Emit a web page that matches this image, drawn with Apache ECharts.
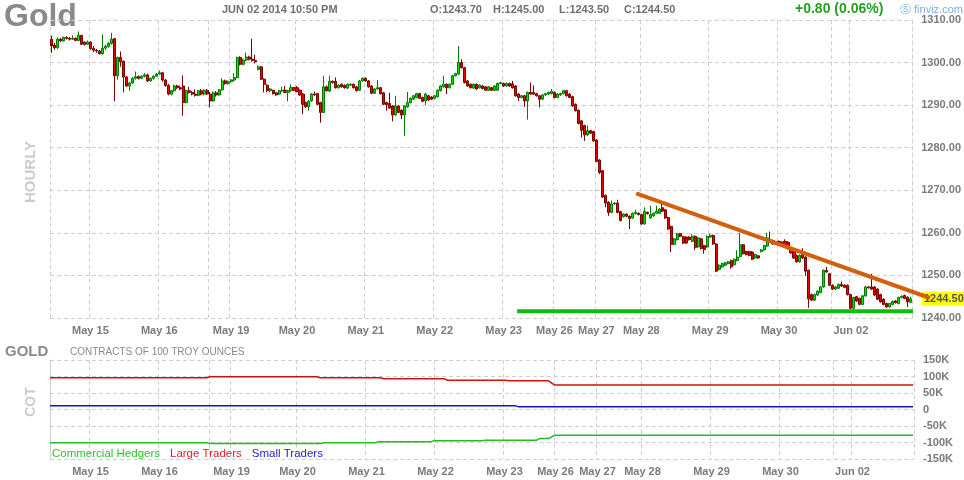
<!DOCTYPE html>
<html><head><meta charset="utf-8">
<script src="https://cdn.jsdelivr.net/npm/echarts@6/dist/echarts.min.js"></script>
<style>html,body{margin:0;padding:0;background:#fff}#c{width:964px;height:480px}</style>
</head><body><div id="c"></div>
<script>
// Hourly candles [open, close, low, high]
const hourlyA = [
[1305.5,1303.9,1302.3,1306.3],[1304.1,1303.5,1303.0,1304.6],[1303.5,1305.5,1303.2,1305.9],[1305.5,1305.1,1304.8,1305.8],
[1305.1,1305.9,1304.9,1306.1],[1305.9,1305.7,1305.4,1306.2],[1305.7,1305.5,1305.2,1306.0],[1305.5,1305.7,1305.3,1306.4],
[1305.7,1305.2,1305.0,1305.9],[1305.2,1306.4,1305.0,1307.3],[1306.4,1304.3,1304.1,1306.5],[1304.8,1304.3,1304.0,1305.0],
[1304.3,1304.8,1304.2,1305.2],[1304.8,1303.3,1303.0,1305.0],[1303.3,1302.9,1302.5,1303.9],[1302.9,1302.7,1302.3,1303.2],
[1302.7,1302.1,1301.9,1303.0],[1302.1,1303.4,1301.9,1306.6],[1303.4,1303.8,1303.0,1304.2],[1303.8,1304.5,1303.5,1304.8],
[1304.5,1305.5,1304.2,1307.0],[1305.6,1296.9,1290.9,1305.8],[1296.9,1301.2,1296.0,1301.4],[1301.2,1300.2,1299.0,1302.6],
[1300.3,1296.6,1293.0,1300.5],[1296.6,1294.5,1294.3,1296.9],[1294.5,1295.2,1293.4,1295.5],[1295.2,1296.3,1295.0,1296.6],
[1296.3,1296.7,1296.0,1297.9],[1296.7,1296.3,1296.0,1297.0],[1296.3,1296.8,1296.1,1297.0],[1296.8,1297.1,1296.5,1297.5],
[1297.1,1295.7,1295.4,1297.4],[1295.7,1296.3,1295.5,1296.5],[1296.3,1296.8,1296.0,1297.0],[1296.8,1297.3,1296.6,1297.6],
[1297.3,1297.6,1297.1,1298.1],[1297.6,1295.9,1295.5,1297.8],[1295.9,1294.6,1294.3,1296.1],[1294.6,1292.6,1292.3,1295.0],
[1292.6,1293.4,1292.3,1293.6],[1293.4,1294.5,1293.1,1294.8],[1294.5,1294.1,1293.8,1294.8],[1294.1,1293.8,1293.5,1294.6],
[1294.5,1290.6,1287.5,1297.0],[1290.6,1293.4,1290.4,1293.7],[1293.4,1293.0,1292.7,1294.3],[1293.0,1292.6,1292.3,1293.3],
[1292.6,1292.3,1292.0,1293.7],[1292.3,1293.4,1292.1,1293.6],[1293.4,1292.6,1292.3,1293.8],[1292.6,1293.5,1292.3,1293.7],
[1293.5,1292.6,1292.4,1293.8],[1292.6,1291.0,1289.5,1293.1],[1291.0,1292.9,1290.8,1293.2],[1292.9,1292.4,1292.0,1293.3],
[1292.4,1293.6,1292.2,1293.8],[1293.6,1295.7,1293.4,1296.3],[1295.7,1295.1,1294.8,1296.0],[1295.1,1295.5,1294.8,1295.8],
[1295.5,1295.9,1295.3,1296.1],[1295.9,1296.5,1295.6,1297.5],[1296.5,1301.2,1296.3,1301.4],[1301.2,1299.6,1299.3,1301.5],
[1299.6,1300.6,1299.3,1300.9],[1300.6,1301.3,1300.3,1302.3],[1301.3,1300.8,1300.5,1301.6],[1300.8,1300.5,1300.2,1305.6],
[1300.5,1300.2,1299.8,1301.8],[1298.4,1299.0,1298.2,1299.3],[1299.0,1296.1,1295.9,1299.2],[1296.1,1294.9,1293.0,1296.3]
];
const hourlyB = [
[1294.7,1293.4,1293.0,1294.9],[1293.4,1293.8,1293.0,1294.0],[1293.5,1292.7,1292.5,1293.6],[1292.9,1292.4,1292.2,1293.0],
[1292.6,1293.4,1292.4,1293.6],[1293.4,1293.5,1293.1,1294.3],[1293.5,1293.0,1292.8,1294.5],[1293.0,1293.4,1290.9,1293.6],
[1293.4,1294.1,1293.2,1294.9],[1294.1,1293.5,1293.3,1294.3],[1294.1,1293.2,1293.0,1294.5],[1293.5,1292.4,1292.2,1293.7],
[1292.6,1290.2,1287.9,1292.8],[1290.6,1289.6,1289.4,1290.8],[1289.6,1290.9,1288.7,1291.2],[1291.0,1292.6,1290.8,1292.8],
[1292.6,1292.4,1292.2,1293.2],[1292.7,1290.2,1290.0,1292.9],[1290.6,1288.3,1285.9,1290.8],[1288.3,1294.3,1288.1,1296.9],
[1294.3,1293.4,1293.2,1294.6],[1293.3,1295.6,1293.1,1296.9],[1295.6,1295.3,1295.1,1295.8],[1295.6,1294.1,1293.9,1296.5],
[1294.1,1294.7,1293.9,1294.9],[1294.9,1294.3,1294.1,1295.1],[1294.6,1294.1,1293.9,1294.9],[1294.0,1294.9,1293.8,1295.1],
[1294.7,1294.9,1294.5,1295.1],[1294.9,1294.1,1293.9,1295.1],[1294.3,1293.4,1293.2,1294.5],[1293.5,1295.7,1293.3,1295.9],
[1295.7,1296.3,1295.5,1296.5],[1296.3,1295.7,1295.5,1296.5],[1295.7,1294.3,1294.1,1295.9],[1294.5,1292.8,1292.6,1294.7],
[1292.8,1293.8,1292.6,1294.0],[1293.8,1294.1,1293.6,1295.9],[1294.1,1292.7,1292.5,1294.3],[1292.9,1290.2,1290.0,1293.1],
[1290.6,1290.1,1288.7,1290.8],[1290.4,1289.3,1289.1,1292.9],[1289.8,1287.7,1286.2,1290.0],[1287.7,1289.8,1287.5,1292.2],
[1289.8,1288.3,1288.1,1290.0],[1288.8,1287.7,1286.7,1289.0],[1287.7,1289.8,1282.8,1290.0],[1289.6,1290.6,1289.4,1293.1],
[1290.6,1291.6,1290.4,1291.8],[1291.4,1292.2,1291.2,1292.4],[1291.8,1292.7,1291.6,1292.9],[1292.7,1291.6,1291.4,1292.9],
[1291.8,1290.9,1290.7,1292.0],[1291.0,1292.6,1290.0,1292.8],[1292.2,1291.2,1291.0,1292.4],[1291.9,1291.4,1291.2,1292.1],
[1291.6,1292.2,1291.4,1292.4],[1292.0,1293.5,1291.8,1293.7],[1293.4,1294.5,1293.2,1294.7],[1294.3,1294.9,1294.1,1296.9],
[1294.9,1294.1,1292.6,1295.1],[1294.1,1294.9,1293.9,1295.1],[1294.9,1296.9,1294.7,1297.1],[1296.9,1297.4,1296.7,1297.6],
[1297.3,1300.0,1297.1,1303.9],[1300.0,1298.8,1298.6,1300.8],[1298.8,1295.3,1295.1,1299.0],[1295.7,1294.5,1294.3,1295.9],
[1294.9,1294.1,1293.9,1295.1],[1294.0,1294.9,1293.8,1295.1],[1294.9,1293.8,1293.6,1295.1],[1294.1,1294.7,1293.9,1294.9]
];
const hourlyC = [
[1294.5,1293.9,1293.7,1294.7],[1294.3,1293.5,1293.3,1294.5],[1293.5,1294.3,1293.3,1294.5],[1294.1,1293.5,1293.3,1294.3],
[1293.5,1294.5,1293.3,1294.7],[1293.5,1295.1,1293.3,1295.3],[1295.1,1295.3,1294.9,1295.5],[1295.1,1294.5,1294.3,1295.3],
[1294.5,1295.1,1294.3,1295.3],[1295.1,1294.5,1294.3,1295.3],[1295.0,1294.1,1293.9,1295.7],[1294.5,1292.2,1292.0,1294.7],
[1292.6,1291.8,1291.0,1292.8],[1291.8,1292.2,1291.6,1292.4],[1292.2,1291.0,1289.6,1292.4],[1291.0,1293.0,1286.6,1293.2],
[1293.0,1292.6,1292.4,1295.3],[1293.0,1292.6,1292.4,1294.6],[1292.7,1292.2,1292.0,1292.9],[1292.2,1291.4,1289.5,1292.4],
[1291.4,1292.4,1291.2,1292.6],[1292.4,1292.7,1292.2,1292.9],[1292.6,1293.0,1292.4,1293.2],[1292.7,1293.2,1292.5,1293.8],
[1293.0,1291.8,1291.6,1293.2],[1291.8,1292.6,1291.6,1292.8],[1292.4,1292.7,1292.2,1292.9],[1292.7,1293.4,1292.5,1293.6],
[1293.4,1292.2,1292.0,1293.6],[1292.6,1291.8,1291.6,1292.8],[1292.0,1289.8,1289.6,1292.2],[1290.2,1288.7,1288.5,1290.4],
[1288.8,1285.7,1285.5,1289.0],[1286.3,1284.1,1282.4,1286.5],[1285.2,1283.0,1281.6,1285.4],[1283.0,1284.0,1282.8,1285.2],
[1284.0,1283.4,1283.2,1284.2],[1283.8,1281.6,1281.4,1284.0],[1281.8,1276.8,1276.6,1282.0],[1277.1,1274.2,1273.8,1277.3],
[1274.6,1268.4,1268.2,1274.8],[1268.8,1267.0,1266.0,1269.0],[1267.2,1264.8,1264.0,1267.4],[1264.8,1266.8,1264.6,1267.6],
[1266.8,1267.0,1266.6,1267.2],[1267.0,1264.8,1264.6,1267.8],[1265.0,1262.9,1262.7,1265.2],[1263.8,1264.4,1263.6,1264.6],
[1264.4,1263.9,1263.7,1264.6],[1263.9,1263.4,1260.9,1264.1],[1263.5,1264.6,1263.3,1264.8],[1264.5,1264.8,1264.3,1265.4],
[1264.6,1264.3,1264.1,1264.8],[1264.3,1262.1,1261.9,1264.5],[1262.1,1265.0,1261.9,1266.0],[1264.8,1264.5,1264.3,1265.0],
[1263.5,1264.3,1263.3,1266.4],[1264.0,1264.6,1263.8,1264.8],[1264.6,1265.1,1264.4,1266.4],[1264.6,1265.6,1264.4,1265.8],
[1265.9,1265.1,1264.9,1266.8],[1265.4,1263.5,1263.3,1265.6],[1263.6,1260.9,1260.7,1263.8],[1261.5,1257.3,1255.5,1261.7],
[1257.3,1258.6,1257.1,1258.8],[1258.4,1259.8,1258.2,1260.0],[1259.8,1259.2,1259.0,1260.0],[1259.1,1257.6,1257.4,1259.3],
[1259.0,1257.6,1257.4,1259.2],[1259.0,1258.4,1258.2,1259.2],[1258.0,1259.2,1257.8,1259.7],[1259.2,1256.6,1256.0,1259.4]
];
const hourlyD = [
[1256.7,1258.8,1256.5,1259.0],[1258.6,1256.3,1256.1,1258.8],[1257.0,1256.1,1255.1,1257.2],[1256.7,1259.2,1256.5,1259.4],
[1259.0,1259.4,1258.8,1259.8],[1259.4,1257.4,1257.2,1259.6],[1257.4,1251.0,1250.8,1257.6],[1251.4,1252.4,1251.2,1252.6],
[1252.0,1252.8,1251.8,1253.0],[1252.4,1253.0,1252.2,1253.2],[1252.8,1253.2,1252.6,1253.4],[1253.5,1252.0,1251.6,1253.7],
[1252.5,1253.8,1252.3,1254.0],[1253.5,1254.3,1253.3,1255.9],[1254.4,1257.2,1254.2,1260.0],[1257.2,1255.1,1254.9,1257.4],
[1255.6,1254.9,1254.7,1255.8],[1255.6,1254.7,1254.5,1255.8],[1255.5,1253.8,1253.6,1255.7],[1254.1,1254.9,1253.9,1255.1],
[1254.6,1254.1,1253.9,1254.8],[1255.6,1256.0,1255.4,1256.2],[1256.0,1257.0,1255.8,1257.2],[1256.9,1258.8,1256.7,1260.0],
[1258.4,1258.0,1257.8,1260.3],[1258.2,1257.4,1257.2,1258.4],[1257.8,1257.4,1257.2,1258.0],[1258.0,1257.4,1257.2,1258.2],
[1257.8,1257.2,1257.0,1258.0],[1258.0,1257.2,1257.0,1258.5],[1257.8,1256.3,1256.1,1258.0],[1256.4,1255.3,1255.1,1256.6],
[1255.5,1254.1,1253.9,1255.7],[1254.7,1253.2,1253.0,1254.9],[1253.2,1254.7,1253.0,1254.9],[1254.9,1254.1,1253.9,1256.4],
[1254.3,1251.0,1249.9,1254.5],[1251.2,1244.5,1242.4,1251.4],[1245.5,1244.2,1244.0,1245.7],[1244.2,1245.5,1244.0,1245.7],
[1245.4,1246.3,1245.2,1246.5],[1246.0,1247.3,1245.8,1247.5],[1247.3,1251.2,1247.1,1251.4],[1251.2,1250.8,1250.6,1252.0],
[1250.4,1247.7,1247.5,1250.6],[1247.7,1246.8,1246.6,1247.9],[1246.8,1247.3,1246.6,1247.5],[1247.0,1247.9,1246.8,1248.1],
[1247.9,1247.5,1247.3,1248.6],[1247.7,1247.2,1247.0,1247.9],[1247.7,1245.5,1245.3,1247.9],[1245.5,1242.3,1242.1,1245.7],
[1242.3,1244.8,1241.1,1245.0],[1245.0,1244.0,1243.8,1245.2],[1244.6,1243.2,1243.0,1244.8],[1243.2,1245.2,1243.0,1245.4],
[1245.2,1247.3,1245.0,1247.5],[1247.3,1247.1,1246.9,1247.5],[1247.3,1246.8,1246.6,1250.4],[1247.3,1245.4,1245.2,1247.5],
[1246.8,1244.4,1244.2,1247.0],[1245.5,1243.8,1243.6,1245.7],[1244.4,1243.2,1243.0,1244.6],[1243.4,1242.6,1242.4,1243.6],
[1242.6,1243.4,1242.4,1243.6],[1243.2,1243.9,1243.0,1244.1],[1244.0,1243.6,1243.4,1244.2],[1243.4,1244.8,1243.2,1245.0],
[1244.8,1245.1,1244.6,1245.3],[1245.3,1244.6,1244.4,1245.5],[1244.9,1243.8,1242.6,1245.1],[1243.7,1244.5,1243.5,1245.0]
];

// Day labels and the hourly bar at which each one sits
const dayLabels    = ['May 15','May 16','May 19','May 20','May 21','May 22','May 23','May 26','May 27','May 28','May 29','May 30','Jun 02'];
const dayLabelBars = [13, 36, 60, 82, 105, 128, 151, 168, 182, 197, 220, 243, 267];
const weekBreakBars = [53, 261];

// Drawn lines: [bar position, price]
const trendLine   = [[195.4, 1269.3], [293.3, 1244.7]];
const supportLine = [[155.7, 1241.6], [287.7, 1241.6]];

// COT positions (thousands of contracts): [bar position, value]
const cotCommercial = [[0,-101],[52.3,-101],[53.3,-103],[90.3,-103],[91.3,-101],[108.4,-101],[109.4,-98],[126.8,-98],[127.8,-95],[144,-95],[145,-93],[162.2,-93],[163.2,-88],[166.2,-88],[168.2,-78],[287.7,-78]];
const cotLarge      = [[0,96],[52.3,96],[53.3,99],[89,99],[90,96],[110.2,96],[111.2,93],[131.3,93],[132.3,89],[151.8,89],[152.8,87],[166.2,87],[168.2,74],[287.7,74]];
const cotSmall      = [[0,11],[155.2,11],[156.2,8],[287.7,8]];

const priceMin = 1240, priceMax = 1310, priceStep = 10;
const cotMin = -150, cotMax = 150, cotStep = 50;

const candles = hourlyA.concat(hourlyB, hourlyC, hourlyD);
const N = candles.length;
const categories = candles.map((c, i) => {
  const k = dayLabelBars.indexOf(i);
  return k >= 0 ? dayLabels[k] : '';
});
const gridBars = [0].concat(dayLabelBars, weekBreakBars);
const last = candles[N - 1];
const lastClose = last[1];

const FONT = '"Liberation Sans", Arial, sans-serif';
const gridLine = { show: true, lineStyle: { color: '#cfcfcf', type: [4, 3], width: 1 } };
const axisLabelStyle = { color: '#7a7a7a', fontWeight: 'bold', fontSize: 11, fontFamily: FONT };

const PLOT_LEFT = 50, PLOT_W = 864, BAR_PX = PLOT_W / N, OVER_W = 880;

function catAxis(gridIndex) {
  return {
    type: 'category', gridIndex, data: categories, boundaryGap: true,
    axisLine: { show: false }, axisTick: { show: false },
    axisLabel: Object.assign({ interval: (i) => dayLabelBars.includes(i), margin: 7 }, axisLabelStyle),
    splitLine: Object.assign({ interval: (i) => gridBars.includes(i) }, gridLine)
  };
}

const chart = echarts.init(document.getElementById('c'), null, { renderer: 'canvas' });
chart.setOption({
  animation: false,
  backgroundColor: '#ffffff',
  textStyle: { fontFamily: FONT },
  grid: [
    { left: PLOT_LEFT, top: 20, width: PLOT_W, height: 298 },
    { left: PLOT_LEFT, top: 360, width: PLOT_W, height: 99 },
    { left: PLOT_LEFT, top: 20, width: OVER_W, height: 298 }
  ],
  xAxis: [
    catAxis(0),
    catAxis(1),
    { type: 'value', gridIndex: 1, min: 0, max: N, show: false },
    { type: 'value', gridIndex: 2, min: 0, max: OVER_W / BAR_PX, show: false }
  ],
  yAxis: [
    { type: 'value', gridIndex: 0, position: 'right', min: priceMin, max: priceMax, interval: priceStep,
      axisLine: { show: true, lineStyle: { color: '#cfcfcf', type: [4, 3] } }, axisTick: { show: false },
      axisLabel: Object.assign({ margin: 9, formatter: (v) => v.toFixed(2) }, axisLabelStyle),
      splitLine: gridLine },
    { type: 'value', gridIndex: 1, position: 'right', min: cotMin, max: cotMax, interval: cotStep,
      axisLine: { show: true, lineStyle: { color: '#cfcfcf', type: [4, 3] } }, axisTick: { show: false },
      axisLabel: Object.assign({ margin: 9, formatter: (v) => v === 0 ? '0' : v + 'K' }, axisLabelStyle),
      splitLine: gridLine },
    { type: 'value', gridIndex: 2, min: priceMin, max: priceMax, show: false }
  ],
  legend: {
    left: 42, top: 443, itemWidth: 0, itemHeight: 0, itemGap: 5, icon: 'rect',
    selectedMode: false,
    textStyle: { fontSize: 11.5, fontFamily: FONT },
    data: [
      { name: 'Commercial Hedgers', textStyle: { color: '#22cc22' } },
      { name: 'Large Traders', textStyle: { color: '#dd2222' } },
      { name: 'Small Traders', textStyle: { color: '#2222cc' } }
    ]
  },
  series: [
    { type: 'candlestick', name: 'Gold', xAxisIndex: 0, yAxisIndex: 0, data: candles, barWidth: '85%',
      itemStyle: { color: '#00e600', color0: '#ee0000', borderColor: '#007a00', borderColor0: '#7a0000', borderWidth: 1 } },
    { type: 'line', name: 'Support', xAxisIndex: 3, yAxisIndex: 2, data: supportLine, symbol: 'none',
      lineStyle: { color: '#11bb11', width: 4 }, z: 5 },
    { type: 'line', name: 'Trend', xAxisIndex: 3, yAxisIndex: 2, data: trendLine, symbol: 'none',
      lineStyle: { color: '#d2600f', width: 4 }, z: 5 },
    { type: 'line', name: 'Commercial Hedgers', xAxisIndex: 2, yAxisIndex: 1, data: cotCommercial, symbol: 'none',
      lineStyle: { color: '#22bb22', width: 1.5 }, itemStyle: { color: '#22bb22' } },
    { type: 'line', name: 'Large Traders', xAxisIndex: 2, yAxisIndex: 1, data: cotLarge, symbol: 'none',
      lineStyle: { color: '#cc1111', width: 1.5 }, itemStyle: { color: '#cc1111' } },
    { type: 'line', name: 'Small Traders', xAxisIndex: 2, yAxisIndex: 1, data: cotSmall, symbol: 'none',
      lineStyle: { color: '#1111cc', width: 1.5 }, itemStyle: { color: '#1111cc' } }
  ],
  graphic: [
    { type: 'text', left: 4, top: 1, style: { text: 'Gold', font: 'bold 32px ' + FONT, fill: '#8a8a8a' } },
    { type: 'text', left: 222, top: 4, style: { text: 'JUN 02 2014 10:50 PM', font: 'bold 11px ' + FONT, fill: '#6e6e6e' } },
    { type: 'text', left: 430, top: 4, style: { text: 'O:' + last[0].toFixed(2), font: 'bold 11px ' + FONT, fill: '#6e6e6e' } },
    { type: 'text', left: 493, top: 4, style: { text: 'H:' + last[3].toFixed(2), font: 'bold 11px ' + FONT, fill: '#6e6e6e' } },
    { type: 'text', left: 559, top: 4, style: { text: 'L:' + last[2].toFixed(2), font: 'bold 11px ' + FONT, fill: '#6e6e6e' } },
    { type: 'text', left: 624, top: 4, style: { text: 'C:' + last[1].toFixed(2), font: 'bold 11px ' + FONT, fill: '#6e6e6e' } },
    { type: 'text', left: 795, top: 2, style: { text: '+0.80 (0.06%)', font: 'bold 14px ' + FONT, fill: '#22a022' } },
    { type: 'text', left: 900, top: 4, style: { text: '\u24c8 finviz.com', font: '11px ' + FONT, fill: '#7aaedc' } },
    { type: 'text', x: 31, y: 172, rotation: Math.PI / 2, style: { text: 'HOURLY', font: 'bold 15px ' + FONT, fill: '#cccccc', align: 'center', verticalAlign: 'middle' } },
    { type: 'text', left: 5, top: 344, style: { text: 'GOLD', font: 'bold 15px ' + FONT, fill: '#8a8a8a' } },
    { type: 'text', left: 70, top: 347, style: { text: 'CONTRACTS OF 100 TROY OUNCES', font: '10px ' + FONT, fill: '#8a8a8a' } },
    { type: 'text', x: 31, y: 402, rotation: Math.PI / 2, style: { text: 'COT', font: 'bold 14px ' + FONT, fill: '#cccccc', align: 'center', verticalAlign: 'middle' } }
  ]
});

// Last-price tag placed on the price scale through the library's own conversion
const tagY = chart.convertToPixel({ yAxisIndex: 0 }, lastClose);
chart.setOption({
  graphic: [{
    type: 'text', id: 'lastTag', left: PLOT_LEFT + PLOT_W + 8, top: tagY - 7, z: 1,
    style: { text: lastClose.toFixed(2), font: 'bold 11px ' + FONT, fill: '#555', backgroundColor: '#ffff00', padding: [2, 2, 1, 2] }
  }]
});
</script></body></html>
